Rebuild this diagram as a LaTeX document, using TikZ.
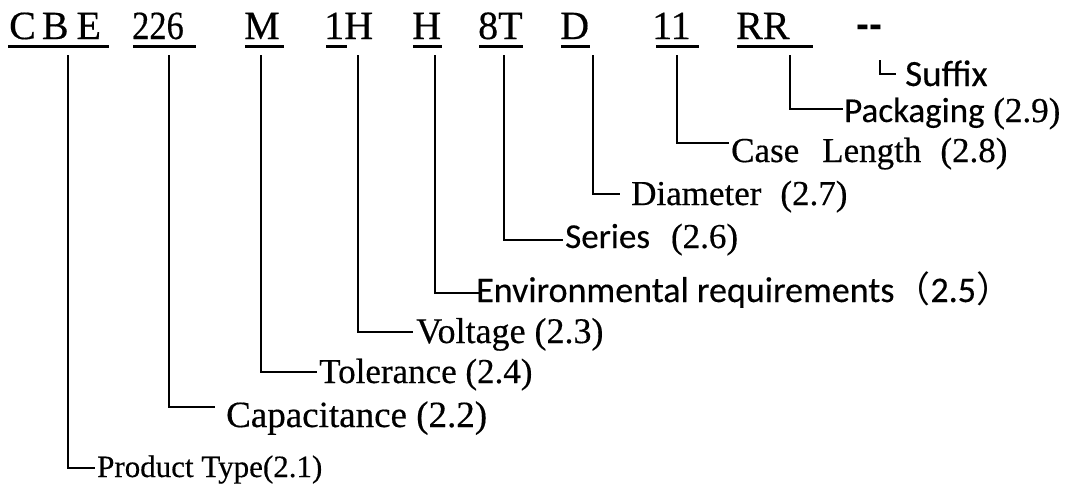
\documentclass[tikz,border=0pt]{standalone}
\usepackage{fontspec}
\usepackage{graphicx}
\setmainfont{Liberation Serif}[FakeBold=0.4]
\newfontfamily\calfont{Carlito}[FakeBold=0.3]
\newfontfamily\cjkfont{Noto Sans CJK SC}
\newfontfamily\dashfont{Liberation Sans}
\begin{document}
\begin{tikzpicture}[x=1pt,y=-1pt]
\tikzset{
  code/.style={inner sep=0pt, anchor=base west, font=\fontsize{40}{40}\selectfont},
  lab/.style={inner sep=0pt, anchor=base west, font=\fontsize{35}{35}\selectfont},
  conn/.style={line width=2.4pt, line join=miter},
  uline/.style={line width=3pt},
  hook/.style={line width=1.8pt, line join=miter}
}
\useasboundingbox[fill=white] (0,0) rectangle (1072,485);

% top code row
\node[code] (cbe) at (9,39) {C\hspace{6pt}B\hspace{8pt}E};
\node[code] (cap) at (132,39) {\scalebox{0.86}[1]{226}};
\node[code] (tol) at (244,39) {M};
\node[code] (volt) at (324,39) {1H};
\node[code] (env) at (412,39) {H};
\node[code] (ser) at (478,39) {8T};
\node[code] (dia) at (560,39) {D};
\node[code] (len) at (652,39) {11};
\node[code] (pack) at (736,39) {RR};
\node[inner sep=0pt, anchor=base west, font=\dashfont\bfseries\fontsize{39}{39}\selectfont] (suf) at (856,37) {-{}-};

% underlines
\draw[uline] (8,46.5) -- (109,46.5);
\draw[uline] (133,46.5) -- (196,46.5);
\draw[uline] (245,46.5) -- (284,46.5);
\draw[uline] (326,46.5) -- (347,46.5);
\draw[uline] (413,46.5) -- (442,46.5);
\draw[uline] (479,46.5) -- (523,46.5);
\draw[uline] (561,46.5) -- (590,46.5);
\draw[uline] (656,46.5) -- (699,46.5);
\draw[uline] (737,46.5) -- (813,46.5);

% labels
\node[lab, font=\fontsize{31}{31}\selectfont] (l1) at (97,477) {Product Type(2.1)};
\node[lab, font=\fontsize{37}{37}\selectfont] (l2) at (226,427) {Capacitance (2.2)};
\node[lab] (l3) at (319,383) {Tolerance (2.4)};
\node[lab, font=\fontsize{36}{36}\selectfont] (l4) at (416,343) {Voltage (2.3)};
\node[lab, font=\calfont\fontsize{36}{36}\selectfont] (l5) at (476,302) {Environmental requirements{\cjkfont （}2.5{\cjkfont ）}};
\node[lab] (l6) at (565,248) {{\calfont Series}\hspace{21pt}(2.6)};
\node[lab] (l7) at (631,205) {Diameter\hspace{19pt}(2.7)};
\node[lab] (l8) at (731,162) {Case\hspace{23pt}Length\hspace{19pt}(2.8)};
\node[lab] (l9) at (844,122) {{\calfont Packaging} (2.9)};
\node[lab, font=\calfont\fontsize{37}{37}\selectfont] (l10) at (905,86) {Suffix};

% connector coordinates
\coordinate (a1) at (68,55);   \coordinate (b1) at (95,468);
\coordinate (a2) at (169,55);  \coordinate (b2) at (215,407);
\coordinate (a3) at (261,55);  \coordinate (b3) at (317,372);
\coordinate (a4) at (358,55);  \coordinate (b4) at (413,332);
\coordinate (a5) at (435,55);  \coordinate (b5) at (482,293);
\coordinate (a6) at (504,55);  \coordinate (b6) at (563,240);
\coordinate (a7) at (593,55);  \coordinate (b7) at (620,194);
\coordinate (a8) at (677,55);  \coordinate (b8) at (729,143);
\coordinate (a9) at (790,55);  \coordinate (b9) at (843,109);
\coordinate (a10) at (880,60); \coordinate (b10) at (896,74);

\draw[conn] (a1) |- (b1);
\draw[conn] (a2) |- (b2);
\draw[conn] (a3) |- (b3);
\draw[conn] (a4) |- (b4);
\draw[conn] (a5) |- (b5);
\draw[conn] (a6) |- (b6);
\draw[conn] (a7) |- (b7);
\draw[conn] (a8) |- (b8);
\draw[conn] (a9) |- (b9);
\draw[hook] (a10) |- (b10);
\end{tikzpicture}
\end{document}
